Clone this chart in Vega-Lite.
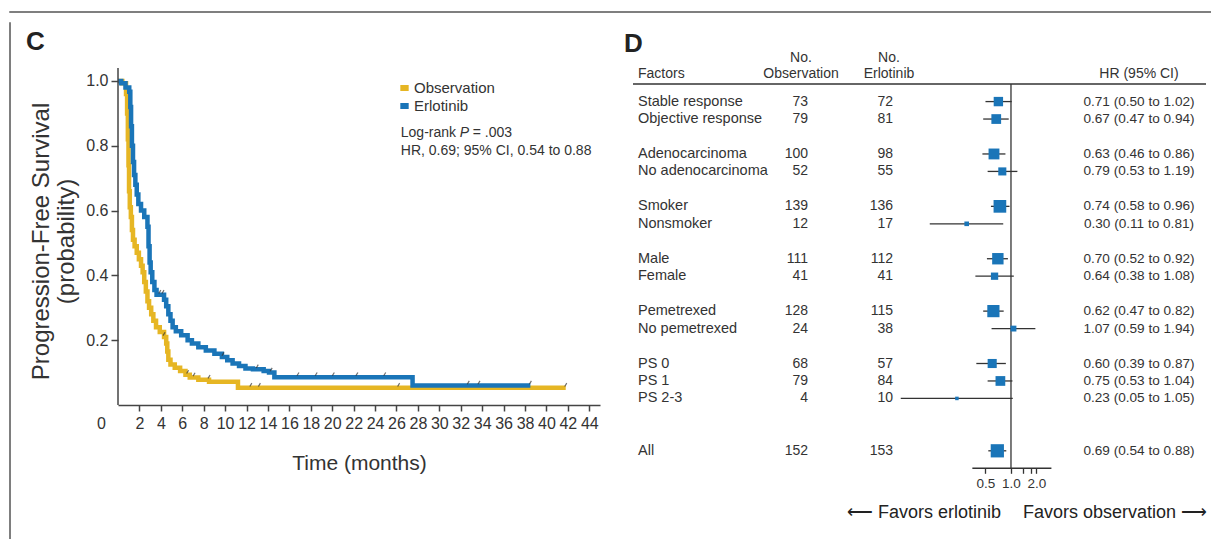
{
  "$schema": "https://vega.github.io/schema/vega-lite/v6.json",
  "background": "white",
  "padding": {"left": 9, "top": 11, "right": 0, "bottom": 0},
  "config": {"view": {"stroke": null}, "font": "Liberation Sans", "axis": {"grid": false}},
  "datasets": {
    "km": [
      {"group": "Erlotinib", "t": 0, "S": 1.0}, {"group": "Erlotinib", "t": 0.3, "S": 0.993}, {"group": "Erlotinib", "t": 0.7, "S": 0.98},
      {"group": "Erlotinib", "t": 1.05, "S": 0.967}, {"group": "Erlotinib", "t": 1.15, "S": 0.92}, {"group": "Erlotinib", "t": 1.22, "S": 0.86},
      {"group": "Erlotinib", "t": 1.3, "S": 0.80}, {"group": "Erlotinib", "t": 1.4, "S": 0.75}, {"group": "Erlotinib", "t": 1.5, "S": 0.71},
      {"group": "Erlotinib", "t": 1.62, "S": 0.68}, {"group": "Erlotinib", "t": 1.75, "S": 0.65}, {"group": "Erlotinib", "t": 1.9, "S": 0.62},
      {"group": "Erlotinib", "t": 2.15, "S": 0.60}, {"group": "Erlotinib", "t": 2.45, "S": 0.58}, {"group": "Erlotinib", "t": 2.75, "S": 0.55},
      {"group": "Erlotinib", "t": 2.85, "S": 0.49}, {"group": "Erlotinib", "t": 2.95, "S": 0.44}, {"group": "Erlotinib", "t": 3.05, "S": 0.41},
      {"group": "Erlotinib", "t": 3.2, "S": 0.38}, {"group": "Erlotinib", "t": 3.4, "S": 0.355}, {"group": "Erlotinib", "t": 3.6, "S": 0.34},
      {"group": "Erlotinib", "t": 4.3, "S": 0.325}, {"group": "Erlotinib", "t": 4.5, "S": 0.305}, {"group": "Erlotinib", "t": 4.7, "S": 0.28},
      {"group": "Erlotinib", "t": 4.9, "S": 0.26}, {"group": "Erlotinib", "t": 5.1, "S": 0.24}, {"group": "Erlotinib", "t": 5.4, "S": 0.228},
      {"group": "Erlotinib", "t": 5.9, "S": 0.215}, {"group": "Erlotinib", "t": 6.5, "S": 0.2}, {"group": "Erlotinib", "t": 6.9, "S": 0.19},
      {"group": "Erlotinib", "t": 7.5, "S": 0.178}, {"group": "Erlotinib", "t": 8.2, "S": 0.168}, {"group": "Erlotinib", "t": 9.0, "S": 0.158},
      {"group": "Erlotinib", "t": 9.7, "S": 0.148}, {"group": "Erlotinib", "t": 10.2, "S": 0.138}, {"group": "Erlotinib", "t": 10.7, "S": 0.128},
      {"group": "Erlotinib", "t": 11.3, "S": 0.12}, {"group": "Erlotinib", "t": 11.9, "S": 0.113}, {"group": "Erlotinib", "t": 12.6, "S": 0.11},
      {"group": "Erlotinib", "t": 13.6, "S": 0.105}, {"group": "Erlotinib", "t": 14.1, "S": 0.1}, {"group": "Erlotinib", "t": 14.6, "S": 0.086},
      {"group": "Erlotinib", "t": 27.5, "S": 0.06}, {"group": "Erlotinib", "t": 38.5, "S": 0.06},
      {"group": "Observation", "t": 0, "S": 1.0}, {"group": "Observation", "t": 0.4, "S": 0.993}, {"group": "Observation", "t": 0.75, "S": 0.96},
      {"group": "Observation", "t": 0.85, "S": 0.90}, {"group": "Observation", "t": 0.92, "S": 0.82}, {"group": "Observation", "t": 0.98, "S": 0.74},
      {"group": "Observation", "t": 1.03, "S": 0.66}, {"group": "Observation", "t": 1.1, "S": 0.61}, {"group": "Observation", "t": 1.2, "S": 0.58},
      {"group": "Observation", "t": 1.3, "S": 0.54}, {"group": "Observation", "t": 1.4, "S": 0.51}, {"group": "Observation", "t": 1.55, "S": 0.49},
      {"group": "Observation", "t": 1.75, "S": 0.47}, {"group": "Observation", "t": 1.95, "S": 0.45}, {"group": "Observation", "t": 2.15, "S": 0.43},
      {"group": "Observation", "t": 2.3, "S": 0.41}, {"group": "Observation", "t": 2.45, "S": 0.38}, {"group": "Observation", "t": 2.6, "S": 0.35},
      {"group": "Observation", "t": 2.75, "S": 0.32}, {"group": "Observation", "t": 2.9, "S": 0.30}, {"group": "Observation", "t": 3.1, "S": 0.28},
      {"group": "Observation", "t": 3.3, "S": 0.26}, {"group": "Observation", "t": 3.55, "S": 0.24}, {"group": "Observation", "t": 3.9, "S": 0.225},
      {"group": "Observation", "t": 4.3, "S": 0.21}, {"group": "Observation", "t": 4.5, "S": 0.19}, {"group": "Observation", "t": 4.6, "S": 0.165},
      {"group": "Observation", "t": 4.7, "S": 0.14}, {"group": "Observation", "t": 4.9, "S": 0.125}, {"group": "Observation", "t": 5.3, "S": 0.115},
      {"group": "Observation", "t": 5.8, "S": 0.105}, {"group": "Observation", "t": 6.3, "S": 0.093}, {"group": "Observation", "t": 6.7, "S": 0.085},
      {"group": "Observation", "t": 7.5, "S": 0.078}, {"group": "Observation", "t": 8.5, "S": 0.072}, {"group": "Observation", "t": 11.2, "S": 0.053},
      {"group": "Observation", "t": 41.8, "S": 0.053}
    ],
    "censor": [
      {"group": "Erlotinib", "t": 3.9, "S": 0.34}, {"group": "Erlotinib", "t": 4.2, "S": 0.34}, {"group": "Erlotinib", "t": 9.8, "S": 0.148},
      {"group": "Erlotinib", "t": 13.0, "S": 0.11}, {"group": "Erlotinib", "t": 14.3, "S": 0.1}, {"group": "Erlotinib", "t": 16.8, "S": 0.086},
      {"group": "Erlotinib", "t": 18.5, "S": 0.086}, {"group": "Erlotinib", "t": 20.1, "S": 0.086}, {"group": "Erlotinib", "t": 22.3, "S": 0.086},
      {"group": "Erlotinib", "t": 24.9, "S": 0.086}, {"group": "Erlotinib", "t": 32.7, "S": 0.06}, {"group": "Erlotinib", "t": 33.7, "S": 0.06},
      {"group": "Erlotinib", "t": 38.5, "S": 0.06},
      {"group": "Observation", "t": 4.3, "S": 0.21}, {"group": "Observation", "t": 6.5, "S": 0.093}, {"group": "Observation", "t": 7.1, "S": 0.085},
      {"group": "Observation", "t": 8.5, "S": 0.078}, {"group": "Observation", "t": 12.4, "S": 0.053}, {"group": "Observation", "t": 13.2, "S": 0.053},
      {"group": "Observation", "t": 26.2, "S": 0.053}, {"group": "Observation", "t": 41.8, "S": 0.053}
    ],
    "forest": [
      {"factor": "Stable response", "nobs": 73, "nerl": 72, "hr": 0.71, "lo": 0.50, "hi": 1.02, "ci": "0.71 (0.50 to 1.02)"},
      {"factor": "Objective response", "nobs": 79, "nerl": 81, "hr": 0.67, "lo": 0.47, "hi": 0.94, "ci": "0.67 (0.47 to 0.94)"},
      {"factor": "Adenocarcinoma", "nobs": 100, "nerl": 98, "hr": 0.63, "lo": 0.46, "hi": 0.86, "ci": "0.63 (0.46 to 0.86)"},
      {"factor": "No adenocarcinoma", "nobs": 52, "nerl": 55, "hr": 0.79, "lo": 0.53, "hi": 1.19, "ci": "0.79 (0.53 to 1.19)"},
      {"factor": "Smoker", "nobs": 139, "nerl": 136, "hr": 0.74, "lo": 0.58, "hi": 0.96, "ci": "0.74 (0.58 to 0.96)"},
      {"factor": "Nonsmoker", "nobs": 12, "nerl": 17, "hr": 0.30, "lo": 0.11, "hi": 0.81, "ci": "0.30 (0.11 to 0.81)"},
      {"factor": "Male", "nobs": 111, "nerl": 112, "hr": 0.70, "lo": 0.52, "hi": 0.92, "ci": "0.70 (0.52 to 0.92)"},
      {"factor": "Female", "nobs": 41, "nerl": 41, "hr": 0.64, "lo": 0.38, "hi": 1.08, "ci": "0.64 (0.38 to 1.08)"},
      {"factor": "Pemetrexed", "nobs": 128, "nerl": 115, "hr": 0.62, "lo": 0.47, "hi": 0.82, "ci": "0.62 (0.47 to 0.82)"},
      {"factor": "No pemetrexed", "nobs": 24, "nerl": 38, "hr": 1.07, "lo": 0.59, "hi": 1.94, "ci": "1.07 (0.59 to 1.94)"},
      {"factor": "PS 0", "nobs": 68, "nerl": 57, "hr": 0.60, "lo": 0.39, "hi": 0.87, "ci": "0.60 (0.39 to 0.87)"},
      {"factor": "PS 1", "nobs": 79, "nerl": 84, "hr": 0.75, "lo": 0.53, "hi": 1.04, "ci": "0.75 (0.53 to 1.04)"},
      {"factor": "PS 2-3", "nobs": 4, "nerl": 10, "hr": 0.23, "lo": 0.05, "hi": 1.05, "ci": "0.23 (0.05 to 1.05)"},
      {"factor": "All", "nobs": 152, "nerl": 153, "hr": 0.69, "lo": 0.54, "hi": 0.88, "ci": "0.69 (0.54 to 0.88)"}
    ]
  },
  "spacing": 10,
  "bounds": "flush",
  "resolve": {"scale": {"color": "independent", "size": "independent"}},
  "vconcat": [
    {"width": 1202, "height": 0.01, "view": {"stroke": "#555", "strokeWidth": 1.5}, "data": {"values": []}, "mark": "point", "encoding": {}},
    {
      "spacing": 33,
      "bounds": "flush",
      "resolve": {"scale": {"color": "independent", "size": "independent"}},
      "hconcat": [
        {"width": 0.01, "height": 517, "view": {"stroke": "#555", "strokeWidth": 1.5}, "data": {"values": []}, "mark": "point", "encoding": {}},
        {"width": 41, "height": 1, "data": {"values": []}, "mark": "point", "encoding": {}},
        {
          "width": 482,
          "height": 382,
          "data": {"name": "km"},
          "layer": [
            {
              "transform": [{"filter": "datum.group === 'Observation'"}],
              "mark": {"type": "line", "interpolate": "step-after", "strokeWidth": 4.5},
              "encoding": {
                "x": {"field": "t", "type": "quantitative", "scale": {"domain": [0, 45], "nice": false, "zero": false},
                  "axis": {"title": "Time (months)", "values": [0, 2, 4, 6, 8, 10, 12, 14, 16, 18, 20, 22, 24, 26, 28, 30, 32, 34, 36, 38, 40, 42, 44], "tickCount": 50,
                    "domainColor": "#444", "domainWidth": 1.5, "tickColor": "#444", "tickWidth": 1.5, "tickSize": 6,
                    "tickOpacity": {"condition": {"test": "datum.value === 0", "value": 0}, "value": 1},
                    "labelOffset": {"condition": {"test": "datum.value === 0", "value": -17}, "value": 0},
                    "labelFontSize": 16, "labelColor": "#333", "labelPadding": 4,
                    "labelOverlap": false, "labelFlush": false, "labelBound": false,
                    "titleFontSize": 21, "titleFontWeight": "normal", "titleColor": "#333", "titlePadding": 21}},
                "y": {"field": "S", "type": "quantitative", "scale": {"domain": [0, 1.179], "nice": false, "zero": false},
                  "axis": {"title": ["Progression-Free Survival", "(probability)"], "values": [0.2, 0.4, 0.6, 0.8, 1.0], "tickCount": 20, "format": ".1f",
                    "domain": false, "tickColor": "#444", "tickWidth": 1.5, "tickSize": 7,
                    "labelFontSize": 16, "labelColor": "#333", "labelPadding": 3, "labelOverlap": false,
                    "titleFontSize": 24, "titleFontWeight": "normal", "titleColor": "#333", "titlePadding": 7,
                    "titleLineHeight": 25, "titleY": 218}},
                "color": {"field": "group", "type": "nominal", "scale": {"domain": ["Observation", "Erlotinib"], "range": ["#E6B624", "#1A75B8"]},
                  "legend": {"title": null, "orient": "none", "legendX": 279, "legendY": 58, "symbolType": "stroke", "symbolStrokeWidth": 6, "symbolSize": 70,
                    "labelFontSize": 15, "labelColor": "#333", "labelOffset": 2, "rowPadding": 3, "clipHeight": 14}}
              }
            },
            {
              "transform": [{"filter": "datum.group === 'Erlotinib'"}],
              "mark": {"type": "line", "interpolate": "step-after", "strokeWidth": 4.5},
              "encoding": {
                "x": {"field": "t", "type": "quantitative"},
                "y": {"field": "S", "type": "quantitative"},
                "color": {"field": "group", "type": "nominal"}
              }
            },
            {
              "data": {"values": [{}]},
              "mark": {"type": "rule", "color": "#444", "strokeWidth": 1.5},
              "encoding": {"x": {"datum": 0, "type": "quantitative"}, "y": {"datum": 0, "type": "quantitative"}, "y2": {"datum": 1.04}}
            },
            {
              "data": {"name": "censor"},
              "mark": {"type": "point", "shape": "M-0.3,0.5L0.3,-0.5", "size": 45, "filled": false, "stroke": "#333", "strokeWidth": 1.2, "yOffset": -3},
              "encoding": {"x": {"field": "t", "type": "quantitative"}, "y": {"field": "S", "type": "quantitative"}}
            },
            {
              "data": {"values": [{}]},
              "mark": {"type": "text", "text": "C", "align": "left", "baseline": "alphabetic", "dx": -92, "dy": 27, "fontSize": 26, "fontWeight": "bold", "color": "#222"},
              "encoding": {"x": {"datum": 0, "type": "quantitative"}, "y": {"datum": 1.179, "type": "quantitative"}}
            },
            {
              "data": {"values": [{}]},
              "mark": {"type": "text", "text": "Log-rank", "align": "left", "baseline": "middle", "fontSize": 14, "color": "#333"},
              "encoding": {"x": {"datum": 26.4, "type": "quantitative"}, "y": {"datum": 0.84, "type": "quantitative"}}
            },
            {
              "data": {"values": [{}]},
              "mark": {"type": "text", "text": "P", "align": "left", "baseline": "middle", "fontSize": 14, "fontStyle": "italic", "color": "#333", "dx": 59},
              "encoding": {"x": {"datum": 26.4, "type": "quantitative"}, "y": {"datum": 0.84, "type": "quantitative"}}
            },
            {
              "data": {"values": [{}]},
              "mark": {"type": "text", "text": "= .003", "align": "left", "baseline": "middle", "fontSize": 14, "color": "#333", "dx": 72},
              "encoding": {"x": {"datum": 26.4, "type": "quantitative"}, "y": {"datum": 0.84, "type": "quantitative"}}
            },
            {
              "data": {"values": [{}]},
              "mark": {"type": "text", "text": "HR, 0.69; 95% CI, 0.54 to 0.88", "align": "left", "baseline": "middle", "fontSize": 14, "color": "#333"},
              "encoding": {"x": {"datum": 26.4, "type": "quantitative"}, "y": {"datum": 0.785, "type": "quantitative"}}
            }
          ]
        },
        {
          "spacing": 0,
          "bounds": "flush",
          "hconcat": [
            {
              "width": 265,
              "height": 454,
              "data": {"name": "forest"},
              "layer": [
                {
                  "data": {"values": [{}]},
                  "mark": {"type": "rule", "color": "#333", "strokeWidth": 1.5},
                  "encoding": {"y": {"datum": "hdr", "type": "nominal", "axis": null,
                    "scale": {"type": "point", "padding": 0.5, "domain": ["a", "b", "c", "hdr", "Stable response", "Objective response", "g1", "Adenocarcinoma", "No adenocarcinoma", "g2", "Smoker", "Nonsmoker", "g3", "Male", "Female", "g4", "Pemetrexed", "No pemetrexed", "g5", "PS 0", "PS 1", "PS 2-3", "g6", "g7", "All", "axis"]}}}
                },
                {
                  "mark": {"type": "text", "align": "left", "baseline": "middle", "fontSize": 14.5, "color": "#333"},
                  "encoding": {
                    "x": {"datum": "f", "type": "nominal", "axis": null, "scale": {"type": "point", "domain": ["f", "g", "o", "e"], "padding": 0.0588}},
                    "y": {"field": "factor", "type": "nominal"},
                    "text": {"field": "factor"}
                  }
                },
                {
                  "mark": {"type": "text", "align": "right", "baseline": "middle", "fontSize": 14, "color": "#333"},
                  "encoding": {"x": {"datum": "o", "type": "nominal"}, "y": {"field": "factor", "type": "nominal"}, "text": {"field": "nobs"}}
                },
                {
                  "mark": {"type": "text", "align": "right", "baseline": "middle", "fontSize": 14, "color": "#333"},
                  "encoding": {"x": {"datum": "e", "type": "nominal"}, "y": {"field": "factor", "type": "nominal"}, "text": {"field": "nerl"}}
                },
                {
                  "data": {"values": [{}]},
                  "mark": {"type": "text", "text": "D", "align": "left", "baseline": "alphabetic", "dx": -14, "dy": 20, "fontSize": 26, "fontWeight": "bold", "color": "#222"},
                  "encoding": {"x": {"datum": "f", "type": "nominal"}, "y": {"datum": "a", "type": "nominal"}}
                },
                {
                  "data": {"values": [{}]},
                  "mark": {"type": "text", "text": "Factors", "align": "left", "baseline": "bottom", "dy": -3, "fontSize": 14, "color": "#333"},
                  "encoding": {"x": {"datum": "f", "type": "nominal"}, "y": {"datum": "hdr", "type": "nominal"}}
                },
                {
                  "data": {"values": [{}]},
                  "mark": {"type": "text", "text": "Observation", "align": "center", "baseline": "bottom", "dy": -3, "dx": -7, "fontSize": 14, "color": "#333"},
                  "encoding": {"x": {"datum": "o", "type": "nominal"}, "y": {"datum": "hdr", "type": "nominal"}}
                },
                {
                  "data": {"values": [{}]},
                  "mark": {"type": "text", "text": "No.", "align": "center", "baseline": "bottom", "dy": -19, "dx": -7, "fontSize": 14, "color": "#333"},
                  "encoding": {"x": {"datum": "o", "type": "nominal"}, "y": {"datum": "hdr", "type": "nominal"}}
                },
                {
                  "data": {"values": [{}]},
                  "mark": {"type": "text", "text": "Erlotinib", "align": "center", "baseline": "bottom", "dy": -3, "dx": -4, "fontSize": 14, "color": "#333"},
                  "encoding": {"x": {"datum": "e", "type": "nominal"}, "y": {"datum": "hdr", "type": "nominal"}}
                },
                {
                  "data": {"values": [{}]},
                  "mark": {"type": "text", "text": "No.", "align": "center", "baseline": "bottom", "dy": -19, "dx": -4, "fontSize": 14, "color": "#333"},
                  "encoding": {"x": {"datum": "e", "type": "nominal"}, "y": {"datum": "hdr", "type": "nominal"}}
                }
              ]
            },
            {
              "width": 174,
              "height": 454,
              "data": {"name": "forest"},
              "layer": [
                {
                  "data": {"values": [{}]},
                  "mark": {"type": "rule", "color": "#333", "strokeWidth": 1.5},
                  "encoding": {"y": {"datum": "hdr", "type": "nominal", "axis": null,
                    "scale": {"type": "point", "padding": 0.5, "domain": ["a", "b", "c", "hdr", "Stable response", "Objective response", "g1", "Adenocarcinoma", "No adenocarcinoma", "g2", "Smoker", "Nonsmoker", "g3", "Male", "Female", "g4", "Pemetrexed", "No pemetrexed", "g5", "PS 0", "PS 1", "PS 2-3", "g6", "g7", "All", "axis"]}}}
                },
                {
                  "mark": {"type": "rule", "color": "#333", "strokeWidth": 1.3},
                  "encoding": {
                    "x": {"field": "lo", "type": "quantitative", "scale": {"type": "log", "domain": [0.0464, 5.25], "nice": false, "zero": false},
                      "axis": {"title": null, "orient": "bottom", "values": [0.5, 1, 1.4, 1.7, 2], "tickCount": 20, "domain": false, "offset": -8.7,
                        "labelExpr": "datum.value === 0.5 ? '0.5' : datum.value === 1 ? '1.0' : datum.value === 2 ? '2.0' : ''",
                        "tickSize": 5, "tickColor": "#333", "tickWidth": 1.3,
                        "labelFontSize": 13.5, "labelColor": "#333", "labelPadding": 3, "labelOverlap": false, "labelFlush": false}},
                    "x2": {"field": "hi"},
                    "y": {"field": "factor", "type": "nominal"}
                  }
                },
                {
                  "data": {"values": [{}]},
                  "mark": {"type": "rule", "color": "#333", "strokeWidth": 1.3},
                  "encoding": {"x": {"datum": 1, "type": "quantitative"}, "y": {"datum": "hdr", "type": "nominal"}, "y2": {"datum": "axis"}}
                },
                {
                  "data": {"values": [{}]},
                  "mark": {"type": "rule", "color": "#333", "strokeWidth": 1.3},
                  "encoding": {"x": {"datum": 0.35, "type": "quantitative"}, "x2": {"datum": 3.0}, "y": {"datum": "axis", "type": "nominal"}}
                },
                {
                  "mark": {"type": "point", "shape": "square", "filled": true, "color": "#1A75B8", "opacity": 1},
                  "encoding": {
                    "x": {"field": "hr", "type": "quantitative"},
                    "y": {"field": "factor", "type": "nominal"},
                    "size": {"field": "nobs", "type": "quantitative", "scale": {"domain": [0, 152], "range": [8, 175]}, "legend": null}
                  }
                },
                {
                  "data": {"values": [{}]},
                  "mark": {"type": "text", "text": "⟵ Favors erlotinib", "align": "right", "baseline": "middle", "dx": -10, "dy": 45, "fontSize": 18, "color": "#222"},
                  "encoding": {"x": {"datum": 1, "type": "quantitative"}, "y": {"datum": "axis", "type": "nominal"}}
                },
                {
                  "data": {"values": [{}]},
                  "mark": {"type": "text", "text": "Favors observation ⟶", "align": "left", "baseline": "middle", "dx": 12, "dy": 45, "fontSize": 18, "color": "#222"},
                  "encoding": {"x": {"datum": 1, "type": "quantitative"}, "y": {"datum": "axis", "type": "nominal"}}
                }
              ]
            },
            {
              "width": 134,
              "height": 454,
              "data": {"name": "forest"},
              "layer": [
                {
                  "data": {"values": [{}]},
                  "mark": {"type": "rule", "color": "#333", "strokeWidth": 1.5},
                  "encoding": {"y": {"datum": "hdr", "type": "nominal", "axis": null,
                    "scale": {"type": "point", "padding": 0.5, "domain": ["a", "b", "c", "hdr", "Stable response", "Objective response", "g1", "Adenocarcinoma", "No adenocarcinoma", "g2", "Smoker", "Nonsmoker", "g3", "Male", "Female", "g4", "Pemetrexed", "No pemetrexed", "g5", "PS 0", "PS 1", "PS 2-3", "g6", "g7", "All", "axis"]}}}
                },
                {
                  "data": {"values": [{}]},
                  "mark": {"type": "text", "text": "HR (95% CI)", "align": "center", "baseline": "bottom", "dy": -3, "fontSize": 14, "color": "#333"},
                  "encoding": {"x": {"datum": "c", "type": "nominal", "axis": null, "scale": {"type": "point", "domain": ["c"], "padding": 0.5}}, "y": {"datum": "hdr", "type": "nominal"}}
                },
                {
                  "mark": {"type": "text", "align": "center", "baseline": "middle", "fontSize": 13.6, "color": "#333"},
                  "encoding": {"x": {"datum": "c", "type": "nominal"}, "y": {"field": "factor", "type": "nominal"}, "text": {"field": "ci"}}
                }
              ]
            }
          ]
        }
      ]
    }
  ]
}
